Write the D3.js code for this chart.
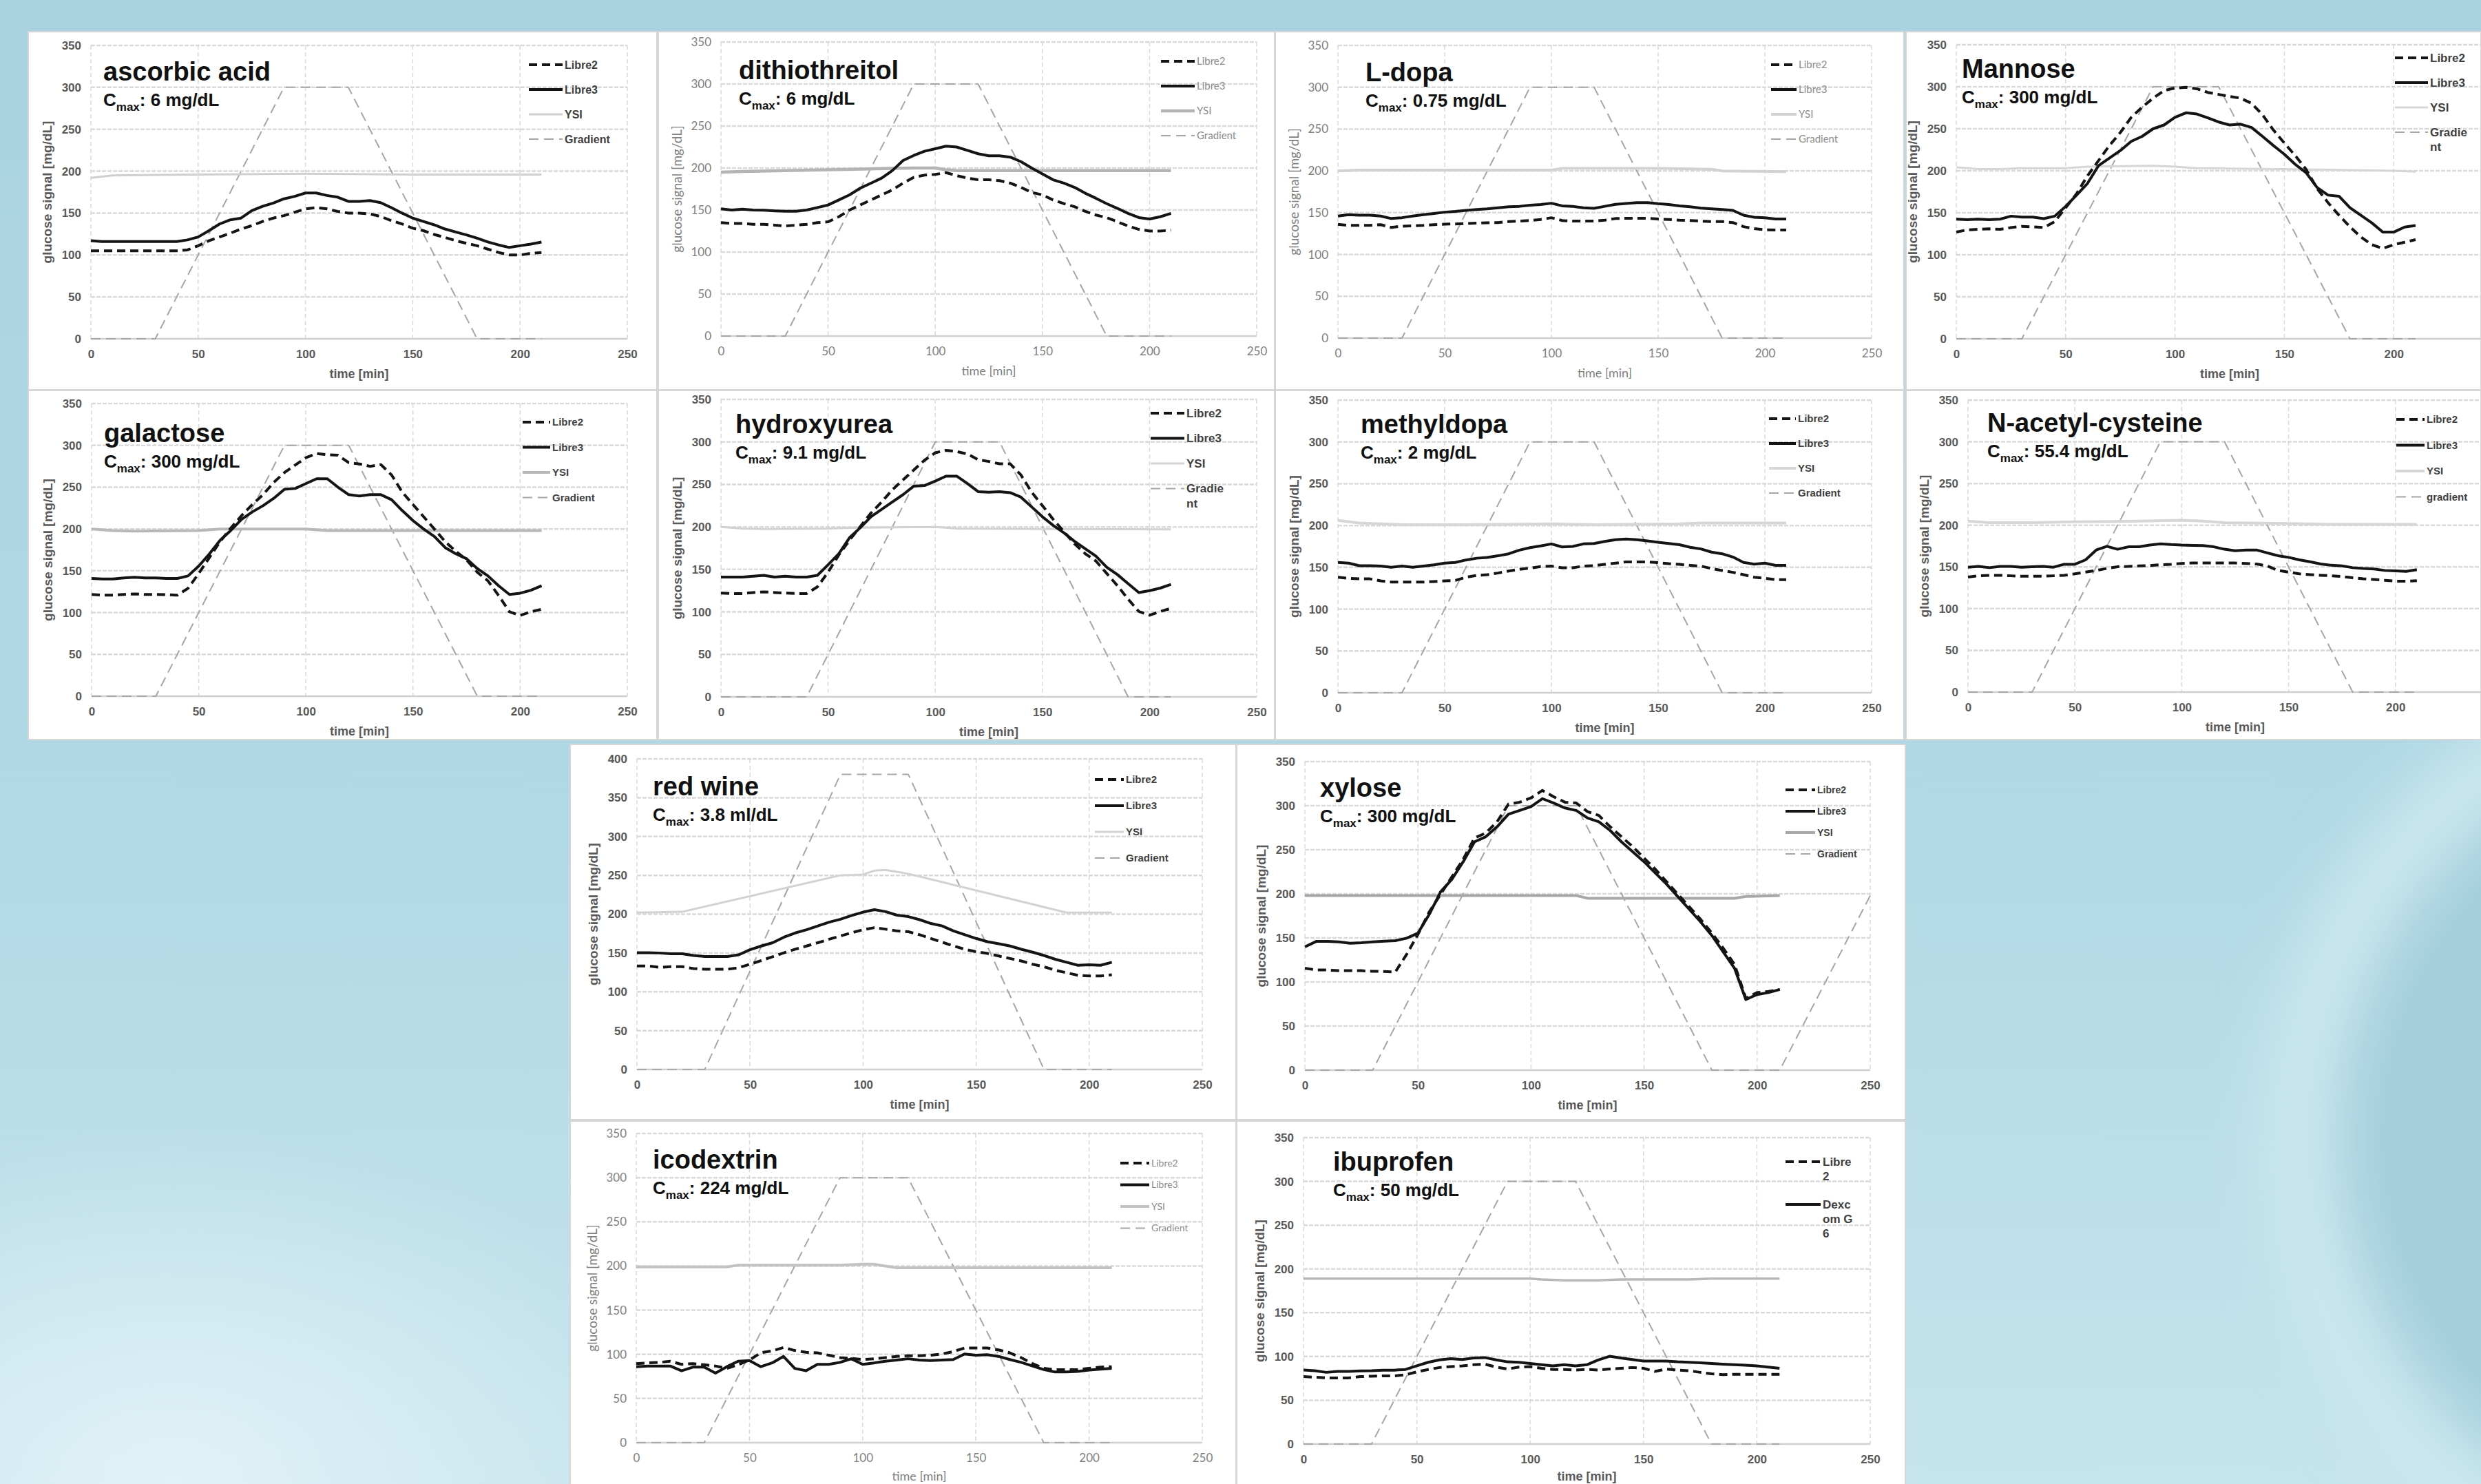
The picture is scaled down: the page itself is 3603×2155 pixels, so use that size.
<!DOCTYPE html>
<html>
<head>
<meta charset="utf-8">
<script src="https://cdn.jsdelivr.net/npm/d3@7"></script>
<style>
html, body { margin: 0; padding: 0; overflow: hidden; background: #abd3e1; }
</style>
</head>
<body>
<svg id="chart"></svg>
<script>
// Axes
const t5 = [0,5,10,15,20,25,30,35,40,45,50,55,60,65,70,75,80,85,90,95,100,105,110,115,120,125,130,135,140,145,150,155,160,165,170,175,180,185,190,195,200,205,210];
const xTicks = [0, 50, 100, 150, 200, 250];
const yTicks350 = [0, 50, 100, 150, 200, 250, 300, 350];
const yTicks400 = [0, 50, 100, 150, 200, 250, 300, 350, 400];

// Gradient (trapezoid of the infusion profile)
const gradT = [0, 30, 90, 120, 180, 210];
const gradV = [0, 0, 300, 300, 0, 0];
const hydroxyGradT = [0, 40, 100, 130, 190, 210];
const wineGradV = [0, 0, 380, 380, 0, 0];
const xyloseGradT = [0, 30, 90, 120, 180, 210, 250];
const xyloseGradV = [0, 0, 300, 300, 0, 0, 198];

// ascorbic acid
const ascorbicLibre3 = [117,116,116,116,116,116,116,116,116,118,121.5,129,137,142,144,153,158,162,167,170,174,174,171,169,164,164,165,162.5,156.5,150,144,140,136,131,127.5,124,120,115.5,112,109,111,113,115.5];
const ascorbicLibre2 = [105,105,105,105,105,105,105,105,105,106,111,117,121.5,126,131,135,140,144,147,151,155,156.5,155,152,150,150,149,146,141,137,132,129,124.5,121,117,114,111,107,103,100,100,102,103];
const ascorbicYsiT = [0, 10, 50, 100, 150, 210];
const ascorbicYsiV = [192, 195, 196, 197, 196, 196];

// dithiothreitol
const dithioLibre3 = [151.5,150,151,150,149.7,149,148.5,148.5,150,153,156,162,168,176,182,188,197,209,215,220,223,226,225,221,217,214.5,214.5,213,207.6,200,193,186,182,177,170,164,157.6,152,146,141,139.4,142,146];
const dithioLibre2 = [135,134,134,133,133,132,131,132,133,135,136,142,150,156,162,168,174,182,189,191.5,192.4,194.5,191,188,186,186,185,182,177,171,168,162,157.6,154,148.5,144,141,136,131,127,125,125,126];
const dithioYsiT = [0, 10, 30, 50, 70, 90, 100, 105, 110, 210];
const dithioYsiV = [195, 196, 197, 198, 199, 200, 200, 198, 197, 197];

// L-dopa
const ldopaLibre3 = [146,147.6,147,147,146,143,144,146,147.6,149,150.6,151.5,152.8,153.7,154.6,155.8,157,157.6,158.9,159.8,161.3,158.2,157.6,155.8,155.2,157.6,160,161,162,162,160.7,159.8,158.2,157,155.5,154.6,153.7,152.8,147,144.5,144,142.4,142.4];
const ldopaLibre2 = [136,134.8,134.8,134.8,135.7,132.4,133.9,134.2,134.8,135.7,136.3,136.6,137,137.5,137.9,138.2,139.4,140,140.6,141.8,144,140.6,140,140,140,141,143,143.3,143.3,143.3,142.4,141.8,141,140.6,140,139.4,139.4,138.2,133.3,130.9,129.6,129.3,129.3];
const ldopaYsiT = [0, 10, 100, 105, 150, 175, 180, 210];
const ldopaYsiV = [200, 201, 201, 203, 203, 202, 200, 199];

// Mannose
const mannoseLibre3 = [142.4,141.8,142.4,141.8,142.4,146,144.8,144.8,143,146,157.6,171,185,206,215,224,235,241,250,254.5,263.6,269,267.6,263,258,254.5,255.5,251.5,241,230,219.7,207.6,197.6,180,171,169.7,156,147,138,127,127,133,134.8];
const mannoseLibre2 = [127,129.7,130.3,130.9,130.3,132.4,133.9,133.3,132.4,139.4,156,172.7,194,212,230,245.5,263.6,275.8,286.4,295.5,298.5,299.4,297.6,293.3,290.9,288.5,286.4,280.3,266.7,248.5,233,218,201.5,178.8,162,147,133.3,121.2,112,107.6,112,115,118];
const mannoseYsiT = [0, 10, 20, 30, 50, 60, 90, 100, 110, 150, 200, 210];
const mannoseYsiV = [204, 202, 202, 203, 203, 205, 206, 205, 203, 202, 200, 199];

// galactose
const galactoseLibre3 = [140.8,140.2,140.2,141.4,142.3,141.4,141.4,140.8,140.8,143.8,155.6,170.3,186.5,198.3,211.5,220.4,227.8,236.6,247.5,248.4,254.3,260,260,249.9,241,239.5,241,241,235,221.9,210,199.8,191,177.7,170.3,164.4,152.6,143.8,132,121.7,123.2,126.7,132];
const galactoseLibre2 = [121.7,120.8,120.8,121.7,122.3,121.7,121.7,121.4,120.8,129,146.7,165.9,185,201.2,216,229.2,241,255.7,267.5,276.4,285.2,290.2,288.7,288.2,279.3,277.8,274.9,277,264.6,244,229.2,214.5,199.8,185,173.2,163,148.2,137.9,120.2,101,96.6,101,104];
const galactoseYsiT = [0, 10, 20, 50, 60, 100, 110, 210];
const galactoseYsiV = [200, 198, 197.5, 198, 200, 200, 198, 198];

// hydroxyurea
const hydroxyLibre3 = [141,141,141,141.9,143,141,141.9,141,141,143,155.5,168.5,187.3,199,212,220.6,229.3,238,248,248.7,253.9,259.7,259.7,251,241.5,240.9,241.5,240.3,235,223.5,212,201.8,193.1,183,174.3,165.6,152.6,143.9,133.2,122.8,125,128,132.3];
const hydroxyLibre2 = [122.2,121.6,121.6,122.8,123.6,122.8,122.2,121.6,121.6,129.4,146.8,167,184.4,200.3,216.3,229.3,243.8,255.4,267,278.5,287.2,290.1,288.7,285.8,279.1,277,274.2,274.2,261.1,240.9,225,209,194.6,180,168.5,159.8,145.3,130.9,115,100.5,96.1,100.5,104.2];
const hydroxyYsiT = [0, 10, 20, 50, 60, 100, 110, 210];
const hydroxyYsiV = [200, 198, 197.5, 198, 199, 200, 198, 197];

// methyldopa
const methylLibre3 = [155.9,155,152,152,151.5,150,151.5,150,151.5,153,155,155.9,158.8,160.9,161.8,163.8,166.2,170.6,173.5,175.6,178,174.4,175,178,178.5,180.9,183,183.8,183,181.5,180,178.5,177,174,172,168.2,166.2,162.4,155.9,153.8,155,152.4,152.4];
const methylLibre2 = [138.2,136.8,136.2,136.2,133.8,132.4,132.4,132.4,132.4,133,133.8,134.4,138.2,140.3,141.2,143.2,145.6,147.6,149.1,150.9,151.5,149.4,149.4,151.5,152,153.5,155,156.5,156.5,156.5,155.6,154.4,153.5,152.4,151.5,148.5,146.2,144,141.2,138.2,136.8,135.3,135.3];
const methylYsiT = [0, 10, 30, 60, 100, 120, 160, 170, 210];
const methylYsiV = [206, 203, 201, 201, 202, 201, 202, 203, 203];

// N-acetyl-cysteine
const nacLibre3 = [149.7,150.6,149.1,150.6,150.6,149.7,150.3,150.6,149.7,153.2,153.2,158.5,170.3,174.7,171.2,174.1,174.1,176.2,177.7,176.8,176.2,175.9,175.6,174.1,171.2,169.4,170.3,170.3,166.8,163.5,161.5,158.5,156.2,153.5,152,151.2,149.1,148.2,147.6,145.8,145.3,144.7,146.7];
const nacLibre2 = [137.9,139.4,140,140,139.4,138.8,138.8,138.8,139.4,140,141.7,143.8,145.8,148.2,150.3,150.6,151.2,151.7,152.6,153.2,154.1,154.7,154.7,154.7,154.7,154.7,154.1,153.5,151.2,145.8,143.8,141.7,140.8,140,139.4,138.5,137,135.8,134.9,134,132.9,132.9,133.5];
const nacYsiT = [0, 10, 30, 50, 80, 100, 110, 120, 150, 170, 210];
const nacYsiV = [205, 203, 203, 204, 205, 206, 205, 203, 202, 201, 201];

// red wine
const wineLibre3 = [150.3,150.3,150,149,149,146.8,145.5,145.5,145.5,147.7,154.2,159,163.2,170.3,175.8,180,184.8,189.7,193.5,198.4,202.6,205.8,203.2,198.7,196.8,192.9,188,184.8,178.4,173.5,168.7,164.5,161.9,159,154.8,151,146.8,141.9,138,134.2,134.8,134.2,138];
const wineLibre2 = [133.2,133.2,131.6,132.3,132.3,130,129,129,129,131,135.5,140.3,145.2,150.3,154.8,159,163.2,167.7,171.9,176.1,180,182.6,180.6,178.4,177.4,173.5,168.7,163.9,159,154.8,151.6,149.4,146.1,142.9,139.7,135.5,132.3,127.7,124.5,121.3,120.3,120.3,121.9];
const wineYsiT = [0, 20, 90, 100, 105, 110, 120, 190, 210];
const wineYsiV = [202, 203, 250, 251, 256, 257, 252, 202, 202];

// xylose
const xyloseLibre3 = [139.8,146,146,145.5,144,144.6,145.5,146.3,146.9,149.7,155.4,176.7,202.3,216.5,236.4,259,264.8,276.1,290.3,294.6,298.9,308,303,297.4,294.6,286,281.8,271.9,259,247.7,236.4,223.6,210.8,196.6,182.4,168.2,152.6,134,115.6,80.1,85.8,88,91.5];
const xyloseLibre2 = [115.6,113.6,113.6,112.8,112.8,112.8,112.2,111.9,111.4,131.3,154,179.5,199.4,219.3,239.2,263.4,269,281.8,301.7,304,308.8,317.3,310.2,304,303.1,293.2,288.9,276.1,264.8,253.4,240.6,227.8,213.6,199.4,185.2,171,155.4,138.4,119.9,81.5,88,89.2,91.5];
const xyloseYsiT = [0, 120, 125, 190, 195, 210];
const xyloseYsiV = [198, 198, 195, 195, 197, 198];

// icodextrin
const icoLibre3 = [86,86.8,86.8,86.8,81.4,85.5,85.5,78.7,86,92.2,93,86,90.3,97.7,84.1,81.4,88.7,88.7,90.9,95,88.7,90.3,92.2,93.6,95,93.6,93,93.6,94.1,100.4,99,99.6,97.7,94.1,90.9,86.8,82.7,80,80,80.6,82.2,83.3,84.1];
const icoLibre2 = [89.5,90.3,90.9,92.2,88.7,89.5,88.2,86.8,84.1,88.2,93.6,101.7,103.9,107.7,104.4,102.3,101.7,99,96.3,95.5,94.1,95,96.3,97.7,98.5,98.5,99,100.4,103.1,107.2,107.2,107.2,105,101.7,96.3,89.5,84.1,82.7,82.7,82.7,84.1,85.5,86];
const icoYsiT = [0, 40, 45, 90, 100, 105, 115, 210];
const icoYsiV = [199, 199, 201, 201, 202, 202, 198, 198];

// ibuprofen (solid series is Dexcom G6)
const ibuDexcom = [84.6,83.8,81.9,83,83,83.5,83.8,84.4,84.4,85.2,89.3,93.4,96.1,97.5,96.6,98.3,98.8,96.1,93.9,93.4,92,90.6,89.3,90.6,89.3,90.6,96.1,100.2,98.3,96.6,94.7,94.7,94.7,93.9,93.4,92.8,92,91.2,90.6,90.1,89.3,87.9,86.5];
const ibuLibre2 = [77,76.4,75.6,75.6,75.6,77,77.5,77.8,77.8,79.2,82.4,85.2,87.4,88.5,89.3,90.6,91.2,87.9,85.7,87.9,88.5,86.5,85.2,85.2,84.6,85.2,84.6,85.7,86.5,87.4,86.5,83,85.7,84.6,83.8,81.9,80.3,79.2,79.7,79.7,79.7,79.7,79.7];
const ibuYsiT = [0, 100, 105, 115, 130, 140, 170, 180, 210];
const ibuYsiV = [189, 189, 188, 187, 187, 188, 188, 189, 189];

// Legend labels (one array of text lines per entry)
const legendStd = [['Libre2'], ['Libre3'], ['YSI'], ['Gradient']];
const legendWrap = [['Libre2'], ['Libre3'], ['YSI'], ['Gradie', 'nt']];
const legendLower = [['Libre2'], ['Libre3'], ['YSI'], ['gradient']];
const legendIbu = [['Libre', '2'], ['Dexc', 'om G', '6']];

const titles = ['ascorbic acid', 'dithiothreitol', 'L-dopa', 'Mannose', 'galactose', 'hydroxyurea',
  'methyldopa', 'N-acetyl-cysteine', 'red wine', 'xylose', 'icodextrin', 'ibuprofen'];
const cmaxText = [': 6 mg/dL', ': 6 mg/dL', ': 0.75 mg/dL', ': 300 mg/dL', ': 300 mg/dL', ': 9.1 mg/dL',
  ': 2 mg/dL', ': 55.4 mg/dL', ': 3.8 ml/dL', ': 300 mg/dL', ': 224 mg/dL', ': 50 mg/dL'];

// Data per panel
const panels = [
  { libre2: ascorbicLibre2, libre3: ascorbicLibre3, ysiT: ascorbicYsiT, ysiV: ascorbicYsiV, gT: gradT, gV: gradV, yTicks: yTicks350, legend: legendStd },
  { libre2: dithioLibre2, libre3: dithioLibre3, ysiT: dithioYsiT, ysiV: dithioYsiV, gT: gradT, gV: gradV, yTicks: yTicks350, legend: legendStd },
  { libre2: ldopaLibre2, libre3: ldopaLibre3, ysiT: ldopaYsiT, ysiV: ldopaYsiV, gT: gradT, gV: gradV, yTicks: yTicks350, legend: legendStd },
  { libre2: mannoseLibre2, libre3: mannoseLibre3, ysiT: mannoseYsiT, ysiV: mannoseYsiV, gT: gradT, gV: gradV, yTicks: yTicks350, legend: legendWrap },
  { libre2: galactoseLibre2, libre3: galactoseLibre3, ysiT: galactoseYsiT, ysiV: galactoseYsiV, gT: gradT, gV: gradV, yTicks: yTicks350, legend: legendStd },
  { libre2: hydroxyLibre2, libre3: hydroxyLibre3, ysiT: hydroxyYsiT, ysiV: hydroxyYsiV, gT: hydroxyGradT, gV: gradV, yTicks: yTicks350, legend: legendWrap },
  { libre2: methylLibre2, libre3: methylLibre3, ysiT: methylYsiT, ysiV: methylYsiV, gT: gradT, gV: gradV, yTicks: yTicks350, legend: legendStd },
  { libre2: nacLibre2, libre3: nacLibre3, ysiT: nacYsiT, ysiV: nacYsiV, gT: gradT, gV: gradV, yTicks: yTicks350, legend: legendLower },
  { libre2: wineLibre2, libre3: wineLibre3, ysiT: wineYsiT, ysiV: wineYsiV, gT: gradT, gV: wineGradV, yTicks: yTicks400, legend: legendStd },
  { libre2: xyloseLibre2, libre3: xyloseLibre3, ysiT: xyloseYsiT, ysiV: xyloseYsiV, gT: xyloseGradT, gV: xyloseGradV, yTicks: yTicks350, legend: legendStd },
  { libre2: icoLibre2, libre3: icoLibre3, ysiT: icoYsiT, ysiV: icoYsiV, gT: gradT, gV: gradV, yTicks: yTicks350, legend: legendStd },
  { libre2: ibuLibre2, libre3: ibuDexcom, ysiT: ibuYsiT, ysiV: ibuYsiV, gT: gradT, gV: gradV, yTicks: yTicks350, legend: legendIbu }
];

// Layout: box and plot area [x0,y0,x1,y1], title offset, legend [dxFromRight, sampleLen, dy0, rowDy, fontSize]
const layout = [
  { box: [41, 46, 954, 566],     plot: [132, 66, 911, 492],     title: [18, 51], leg: [143, 49, 28, 36, 16], font: 'arial',   ysi: ['#cfcfcf', 3] },
  { box: [956, 46, 1851, 566],   plot: [1047, 61, 1825, 488],   title: [26, 54], leg: [139, 49, 28, 36, 15], font: 'calibri', ysi: ['#b4b4b4', 4.5] },
  { box: [1852, 46, 2765, 566],  plot: [1943, 66, 2718, 491],   title: [40, 52], leg: [146, 37, 28, 36, 15], font: 'calibri', ysi: ['#d2d2d2', 4] },
  { box: [2768, 46, 3603, 566],  plot: [2841, 65, 3635, 492],   title: [8, 48],  leg: [157, 48, 19, 36, 17], font: 'arial',   ysi: ['#d6d6d6', 3] },
  { box: [41, 567, 954, 1074],   plot: [133, 586, 911, 1011],   title: [18, 56], leg: [152, 40, 27, 36.5, 15], font: 'arial', ysi: ['#b8b8b8', 4] },
  { box: [956, 567, 1851, 1074], plot: [1047, 580, 1825, 1012], title: [21, 49], leg: [154, 49, 20, 36.5, 17], font: 'arial', ysi: ['#d2d2d2', 3] },
  { box: [1852, 567, 2765, 1074], plot: [1943, 581, 2718, 1006], title: [33, 48], leg: [149, 39, 27, 36, 15], font: 'arial', ysi: ['#d6d6d6', 4] },
  { box: [2768, 567, 3603, 1074], plot: [2858, 581, 3634, 1005], title: [28, 46], leg: [154, 41, 28, 37.5, 15], font: 'arial', ysi: ['#d6d6d6', 4] },
  { box: [828, 1081, 1795, 1626], plot: [925, 1102, 1746, 1553], title: [23, 53], leg: [156, 42, 30, 38, 15], font: 'arial', ysi: ['#d2d2d2', 3] },
  { box: [1796, 1081, 2767, 1626], plot: [1895, 1106, 2716, 1554], title: [22, 51], leg: [123, 43, 41, 31, 14], font: 'arial', ysi: ['#a8a8a8', 4] },
  { box: [828, 1628, 1795, 2165], plot: [924, 1646, 1746, 2095], title: [24, 51], leg: [119, 42, 43, 31.5, 14], font: 'calibri', ysi: ['#c2c2c2', 4] },
  { box: [1796, 1628, 2767, 2165], plot: [1893, 1652, 2716, 2097], title: [43, 48], leg: [123, 51, 35, 62, 17], font: 'arial', ysi: ['#b8b8b8', 3.5] }
];

const fonts = {
  arial:   { family: "'Liberation Sans', Arial, sans-serif", weight: 'bold', tick: '#595959', legend: '#404040' },
  calibri: { family: "Lato, 'Liberation Sans', sans-serif", weight: 'normal', tick: '#7f7f7f', legend: '#8c8c8c' }
};

const W = 3603, H = 2155;
const svg = d3.select('#chart').attr('width', W).attr('height', H);
const defs = svg.append('defs');

// Background
const bgGrad = defs.append('linearGradient').attr('id', 'bgGrad').attr('x1', 0).attr('y1', 0).attr('x2', 0).attr('y2', 1);
bgGrad.append('stop').attr('offset', 0).attr('stop-color', '#a9d2e0');
bgGrad.append('stop').attr('offset', 0.55).attr('stop-color', '#b1d8e5');
bgGrad.append('stop').attr('offset', 1).attr('stop-color', '#c6e4ed');

const glow = defs.append('radialGradient').attr('id', 'glow');
glow.append('stop').attr('offset', 0).attr('stop-color', '#e4f4f8').attr('stop-opacity', 0.9);
glow.append('stop').attr('offset', 1).attr('stop-color', '#e4f4f8').attr('stop-opacity', 0);

defs.append('filter').attr('id', 'blur').append('feGaussianBlur').attr('stdDeviation', 40);

svg.append('rect').attr('width', W).attr('height', H).attr('fill', 'url(#bgGrad)');
svg.append('ellipse').attr('cx', 250).attr('cy', 2150).attr('rx', 750).attr('ry', 520).attr('fill', 'url(#glow)');
svg.append('circle').attr('cx', 3980).attr('cy', 1650).attr('r', 640)
  .attr('fill', '#a5cfdd').attr('stroke', '#cbe7ef').attr('stroke-width', 110)
  .attr('filter', 'url(#blur)');

const seriesStyle = {
  libre2: { stroke: '#141414', width: 4, dash: '12,7' },
  libre3: { stroke: '#141414', width: 4, dash: null },
  grad:   { stroke: '#a6a6a6', width: 2, dash: '14,8' }
};
const legendKinds = ['libre2', 'libre3', 'ysi', 'grad'];

function drawPanel(p, lay, i) {
  const [bx0, by0, bx1, by1] = lay.box;
  const [L, T, R, B] = lay.plot;
  const f = fonts[lay.font];
  const g = svg.append('g').attr('class', 'panel');

  g.append('rect')
    .attr('x', bx0).attr('y', by0)
    .attr('width', bx1 - bx0).attr('height', by1 - by0)
    .attr('fill', '#ffffff').attr('stroke', '#d6d6d6').attr('stroke-width', 2);

  const x = d3.scaleLinear().domain([0, 250]).range([L, R]);
  const y = d3.scaleLinear().domain([0, d3.max(p.yTicks)]).range([B, T]);

  // grid
  g.append('g').selectAll('line').data(p.yTicks.filter(v => v > 0)).join('line')
    .attr('x1', L).attr('x2', R)
    .attr('y1', d => y(d)).attr('y2', d => y(d))
    .attr('stroke', '#d9d9d9').attr('stroke-width', 2.5).attr('stroke-dasharray', '6,2');
  g.append('g').selectAll('line').data(xTicks).join('line')
    .attr('x1', d => x(d)).attr('x2', d => x(d))
    .attr('y1', T).attr('y2', B)
    .attr('stroke', '#d9d9d9').attr('stroke-width', 1.5).attr('stroke-dasharray', '6,4');
  g.append('line').attr('x1', L).attr('x2', R).attr('y1', B).attr('y2', B)
    .attr('stroke', '#cfcfcf').attr('stroke-width', 2.5);

  // axes (labels only)
  const xAxis = g.append('g').attr('transform', `translate(0,${B})`)
    .call(d3.axisBottom(x).tickValues(xTicks).tickSize(0).tickPadding(16));
  const yAxis = g.append('g').attr('transform', `translate(${L},0)`)
    .call(d3.axisLeft(y).tickValues(p.yTicks).tickSize(0).tickPadding(14));
  [xAxis, yAxis].forEach(a => {
    a.select('.domain').remove();
    a.selectAll('text')
      .attr('font-family', f.family).attr('font-weight', f.weight)
      .attr('font-size', 17).attr('fill', f.tick);
  });

  g.append('text')
    .attr('x', (x(0) + x(250)) / 2).attr('y', Math.min(B + 57, H - 5))
    .attr('text-anchor', 'middle')
    .attr('font-family', f.family).attr('font-weight', f.weight)
    .attr('font-size', 18).attr('fill', f.tick)
    .text('time [min]');
  g.append('text')
    .attr('transform', `translate(${L - 57},${(T + B) / 2}) rotate(-90)`)
    .attr('text-anchor', 'middle')
    .attr('font-family', f.family).attr('font-weight', f.weight)
    .attr('font-size', 19).attr('fill', f.tick)
    .text('glucose signal [mg/dL]');

  // series
  const line = d3.line().x(d => x(d[0])).y(d => y(d[1]));
  const ysiStyle = { stroke: lay.ysi[0], width: lay.ysi[1], dash: null };
  const series = [
    [d3.zip(p.gT, p.gV), seriesStyle.grad],
    [d3.zip(p.ysiT, p.ysiV), ysiStyle],
    [d3.zip(t5, p.libre3), seriesStyle.libre3],
    [d3.zip(t5, p.libre2), seriesStyle.libre2]
  ];
  series.forEach(([pts, st]) => {
    g.append('path').datum(pts)
      .attr('d', line)
      .attr('fill', 'none')
      .attr('stroke', st.stroke)
      .attr('stroke-width', st.width)
      .attr('stroke-linejoin', 'round')
      .attr('stroke-dasharray', st.dash);
  });

  // title
  g.append('text')
    .attr('x', L + lay.title[0]).attr('y', T + lay.title[1])
    .attr('font-family', "'Liberation Sans', Arial, sans-serif")
    .attr('font-weight', 'bold').attr('font-size', 38).attr('fill', '#111')
    .text(titles[i]);
  const cm = g.append('text')
    .attr('x', L + lay.title[0]).attr('y', T + lay.title[1] + 37)
    .attr('font-family', "'Liberation Sans', Arial, sans-serif")
    .attr('font-weight', 'bold').attr('fill', '#111');
  cm.append('tspan').attr('font-size', 26).text('C');
  cm.append('tspan').attr('font-size', 17).attr('dy', 7).text('max');
  cm.append('tspan').attr('font-size', 26).attr('dy', -7).text(cmaxText[i]);

  // legend
  const [ldx, llen, ly0, ldy, lfs] = lay.leg;
  const lx = R - ldx;
  p.legend.forEach((lines, k) => {
    const yy = T + ly0 + k * ldy;
    const kind = legendKinds[k];
    const st = kind === 'ysi' ? ysiStyle : seriesStyle[kind];
    g.append('line')
      .attr('x1', lx).attr('x2', lx + llen).attr('y1', yy).attr('y2', yy)
      .attr('stroke', st.stroke).attr('stroke-width', st.width)
      .attr('stroke-dasharray', st.dash);
    const tx = g.append('text')
      .attr('x', lx + llen + 3).attr('y', yy + lfs * 0.35)
      .attr('font-family', f.family).attr('font-weight', f.weight)
      .attr('font-size', lfs).attr('fill', f.legend);
    lines.forEach((s, j) => {
      tx.append('tspan').attr('x', lx + llen + 3).attr('dy', j === 0 ? 0 : lfs * 1.25).text(s);
    });
  });
}

panels.forEach((p, i) => drawPanel(p, layout[i], i));
</script>
</body>
</html>
